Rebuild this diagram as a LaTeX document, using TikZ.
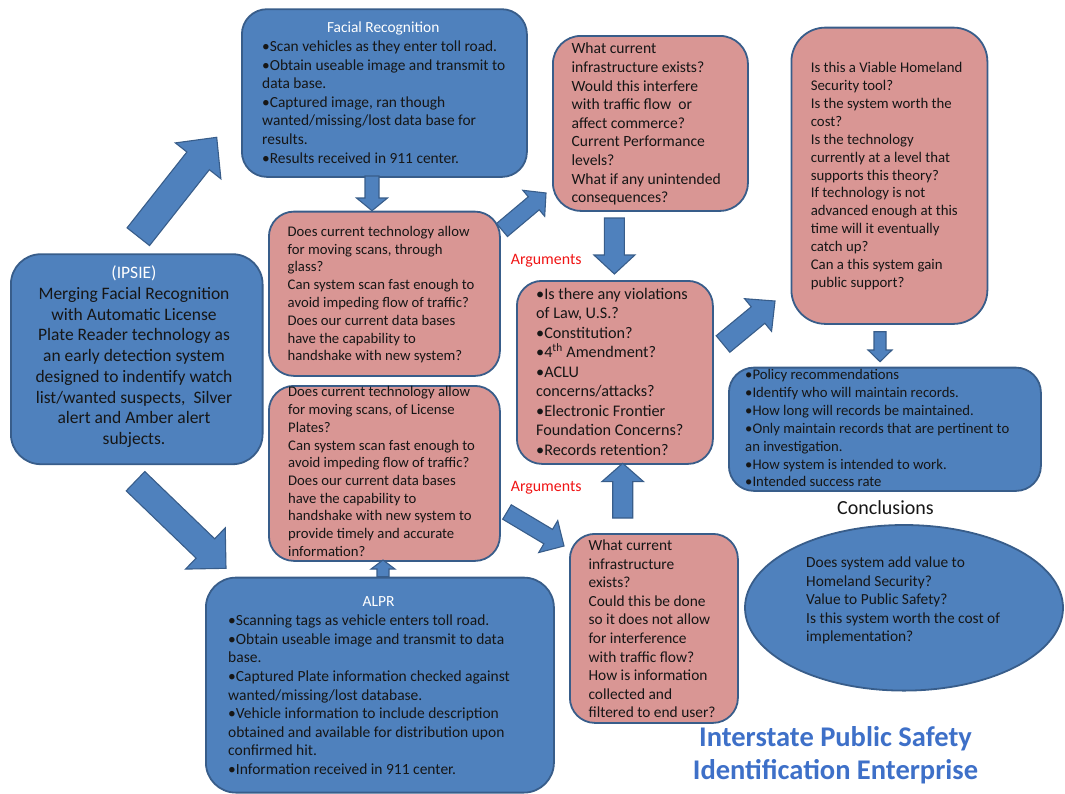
\documentclass[tikz,border=0pt]{standalone}
\usepackage{fontspec}
\setmainfont{Carlito}
\usetikzlibrary{calc,shapes.geometric}
\definecolor{bluef}{RGB}{79,129,189}
\definecolor{bordc}{RGB}{56,93,138}
\definecolor{pinkf}{RGB}{217,150,148}
\definecolor{txtc}{RGB}{22,22,22}
\definecolor{titlec}{RGB}{62,112,200}
\definecolor{argc}{RGB}{240,20,20}
\newcommand\fs[2]{\fontsize{#1}{#2}\selectfont}
\newcommand\fl{\rule{0pt}{0.8em}}
\newcommand\blockarrow[5]{%
  \coordinate (bahead) at ($(#2)!#5!(#1)$);
  \draw[barrow] ($(#1)!#3!90:(#2)$) -- ($(bahead)!#3!90:(#2)$) -- ($(bahead)!#4!90:(#2)$) -- (#2) -- ($(bahead)!#4!-90:(#2)$) -- ($(bahead)!#3!-90:(#2)$) -- ($(#1)!#3!-90:(#2)$) -- cycle;}
\begin{document}
\begin{tikzpicture}[x=1pt,y=-1pt,
  bluebox/.style={draw=bordc, fill=bluef, line width=1.8pt, rounded corners=25pt, inner sep=0pt, anchor=north west},
  pinkbox/.style={draw=bordc, fill=pinkf, line width=1.8pt, rounded corners=25pt, inner sep=0pt, anchor=north west},
  barrow/.style={draw=bordc, fill=bluef, line width=1.1pt, line join=miter},
  txt/.style={anchor=north west, align=left, inner sep=0pt, text=txtc},
  wtitle/.style={anchor=base, inner sep=0pt, text=white},
  arglabel/.style={anchor=base, inner sep=0pt, text=argc, font=\fs{15.9}{19}}]
\useasboundingbox (0,0) rectangle (1065,793);

% boxes
\node[bluebox, minimum width=285pt, minimum height=167.7pt] (fr) at (241,8.3) {};
\node[bluebox, rounded corners=30pt, minimum width=251.7pt, minimum height=210pt] (ipsie) at (10,253.3) {};
\node[pinkbox, minimum width=231pt, minimum height=164.3pt] (p1) at (268,210.7) {};
\node[pinkbox, minimum width=231pt, minimum height=175pt] (p2) at (268,385) {};
\node[bluebox, rounded corners=30pt, minimum width=348pt, minimum height=215pt] (alpr) at (205,576.7) {};
\node[pinkbox, rounded corners=28pt, minimum width=195pt, minimum height=175pt] (inf1) at (552,35) {};
\node[pinkbox, minimum width=196pt, minimum height=183pt] (viol) at (516,280) {};
\node[pinkbox, minimum width=168pt, minimum height=189pt] (inf2) at (569,533) {};
\node[pinkbox, rounded corners=34pt, minimum width=196pt, minimum height=296.3pt] (viable) at (790.5,26.7) {};
\node[bluebox, minimum width=312pt, minimum height=123.3pt] (policy) at (728,366.7) {};
\node[ellipse, draw=bordc, fill=bluef, line width=1.8pt, inner sep=0pt, minimum width=318pt, minimum height=165.6pt] (concl) at (904,607.8) {};

% arrow end points
\coordinate (a1s) at (138.3,236.7); \coordinate (a1e) at (216.7,137.3);
\coordinate (a2s) at (135.5,481.2); \coordinate (a2e) at (226,568.3);
\coordinate (a3s) at (372,176);     \coordinate (a3e) at (372,210.7);
\coordinate (a4s) at (383,576.7);   \coordinate (a4e) at (383,560);
\coordinate (a5s) at (502,230);     \coordinate (a5e) at (546,193);
\coordinate (a6s) at (614.4,218);   \coordinate (a6e) at (614.4,274);
\coordinate (a7s) at (622.7,518);   \coordinate (a7e) at (622.7,463.3);
\coordinate (a8s) at (507,512);     \coordinate (a8e) at (564,546);
\coordinate (a9s) at (723,344);     \coordinate (a9e) at (775,301);
\coordinate (a10s) at (880,331.7);  \coordinate (a10e) at (880,361.7);

\blockarrow{a1s}{a1e}{14.3pt}{29pt}{30pt}
\blockarrow{a2s}{a2e}{13.4pt}{28.6pt}{28.6pt}
\blockarrow{a3s}{a3e}{7pt}{15.5pt}{12.7pt}
\blockarrow{a4s}{a4e}{6pt}{12pt}{9pt}
\blockarrow{a5s}{a5e}{8.5pt}{17pt}{16pt}
\blockarrow{a6s}{a6e}{10pt}{20.5pt}{19pt}
\blockarrow{a7s}{a7e}{10pt}{20.8pt}{18.3pt}
\blockarrow{a8s}{a8e}{8.4pt}{18.6pt}{18.4pt}
\blockarrow{a9s}{a9e}{10.7pt}{21.2pt}{22pt}
\blockarrow{a10s}{a10e}{6pt}{12pt}{11.7pt}

% texts
\node[wtitle, font=\fs{15.4}{18.6}] (frtitle) at (383.2,32.3) {Facial Recognition};
\node[txt, font=\fs{15.4}{18.6}] (frtext) at (262,39) {\fl •Scan vehicles as they enter toll road.\\•Obtain useable image and transmit to\\data base.\\•Captured image, ran though\\wanted/missing/lost data base for\\results.\\•Results received in 911 center.};

\node[anchor=north, align=center, inner sep=0pt, text=txtc, font=\fs{17.5}{20.75}] (ipsietext) at (134,264.5) {\fl\textcolor{white}{(IPSIE)}\\Merging Facial Recognition\\with Automatic License\\Plate Reader technology as\\an early detection system\\designed to indentify watch\\list/wanted suspects,~ Silver\\alert and Amber alert\\subjects.};

\node[txt, font=\fs{14.7}{17.8}] (p1text) at (287.5,224.3) {\fl Does current technology allow\\for moving scans, through\\glass?\\Can system scan fast enough to\\avoid impeding flow of traffic?\\Does our current data bases\\have the capability to\\handshake with new system?};

\node[txt, font=\fs{14.7}{17.7}] (p2text) at (288,385) {\fl Does current technology allow\\for moving scans, of License\\Plates?\\Can system scan fast enough to\\avoid impeding flow of traffic?\\Does our current data bases\\have the capability to\\handshake with new system to\\provide timely and accurate\\information?};

\node[wtitle, font=\fs{15.5}{18.6}] (alprtitle) at (378.5,606.7) {ALPR};
\node[txt, font=\fs{15.5}{18.6}] (alprtext) at (228,613) {\fl •Scanning tags as vehicle enters toll road.\\•Obtain useable image and transmit to data\\base.\\•Captured Plate information checked against\\wanted/missing/lost database.\\•Vehicle information to include description\\obtained and available for distribution upon\\confirmed hit.\\•Information received in 911 center.};

\node[txt, font=\fs{15.6}{18.6}] (inf1text) at (571.4,41.2) {\fl What current\\infrastructure exists?\\Would this interfere\\with traffic flow~ or\\affect commerce?\\Current Performance\\levels?\\What if any unintended\\consequences?};

\node[arglabel] (arg1) at (546.2,264.8) {Arguments};
\node[arglabel] (arg2) at (546.2,491.5) {Arguments};

\node[txt, font=\fs{16.2}{19.5}] (violtext) at (536,285.9) {\fl •Is there any violations\\of Law, U.S.?\\•Constitution?\\•4\textsuperscript{th} Amendment?\\•ACLU\\concerns/attacks?\\•Electronic Frontier\\Foundation Concerns?\\•Records retention?};

\node[txt, font=\fs{15.4}{18.6}] (inf2text) at (588.4,538) {\fl What current\\infrastructure\\exists?\\Could this be done\\so it does not allow\\for interference\\with traffic flow?\\How is information\\collected and\\filtered to end user?};

\node[txt, font=\fs{14.8}{17.85}] (viabletext) at (810.6,60.9) {\fl Is this a Viable Homeland\\Security tool?\\Is the system worth the\\cost?\\Is the technology\\currently at a level that\\supports this theory?\\If technology is not\\advanced enough at this\\time will it eventually\\catch up?\\Can a this system gain\\public support?};

\node[txt, font=\fs{14.7}{17.9}] (policytext) at (745,367.6) {\fl •Policy recommendations\\•Identify who will maintain records.\\•How long will records be maintained.\\•Only maintain records that are pertinent to\\an investigation.\\•How system is intended to work.\\•Intended success rate};

\node[anchor=base, inner sep=0pt, text=txtc, font=\fs{20}{24}] (concllabel) at (885.5,514.3) {Conclusions};

\node[txt, font=\fs{15.4}{18.5}] (concltext) at (806,555) {\fl Does system add value to\\Homeland Security?\\Value to Public Safety?\\Is this system worth the cost of\\implementation?};

\node[anchor=north, align=center, inner sep=0pt, text=titlec, font=\fs{28.5}{32.3}\bfseries] (title) at (835.5,723.9) {\fl Interstate Public Safety\\Identification Enterprise};
\end{tikzpicture}
\end{document}
